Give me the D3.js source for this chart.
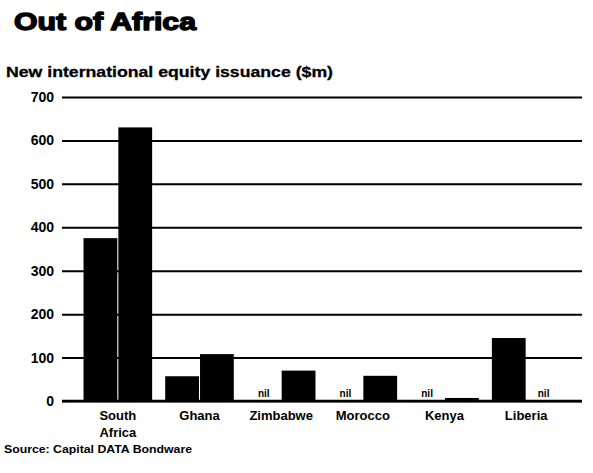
<!DOCTYPE html>
<html>
<head>
<meta charset="utf-8">
<script src="https://cdn.jsdelivr.net/npm/d3@7"></script>
<style>
  html, body { margin: 0; padding: 0; background: #fff; }
  svg { display: block; font-family: "Liberation Sans", Arial, sans-serif; }
</style>
</head>
<body>
<svg id="chart" width="593" height="473"></svg>
<script>
// New international equity issuance ($m), two periods per country; null = nil
const countries = ["South Africa", "Ghana", "Zimbabwe", "Morocco", "Kenya", "Liberia"];
const periods = ["first", "second"];
const firstValues = [375, 57, null, null, null, 145];
const secondValues = [630, 108, 70, 58, 7, null];
const yTicks = [0, 100, 200, 300, 400, 500, 600, 700];

const svg = d3.select("#chart");
const ink = "#000";

const y = d3.scaleLinear().domain([0, 700]).range([401, 97]);
const x = d3.scaleBand().domain(countries).range([77, 567])
  .paddingInner(0.16).paddingOuter(0.08);
const xs = d3.scaleBand().domain(periods).range([0, x.bandwidth()]).paddingInner(0.03);

// Title (heavy face, thickened with an outline) and subtitle
svg.append("text").attr("x", 14).attr("y", 30)
  .attr("font-size", 24).attr("font-weight", 700).attr("fill", ink)
  .attr("stroke", ink).attr("stroke-width", 1.4).attr("stroke-linejoin", "round")
  .attr("textLength", 182).attr("lengthAdjust", "spacingAndGlyphs")
  .text("Out of Africa");
svg.append("text").attr("x", 6).attr("y", 77)
  .attr("font-size", 15).attr("font-weight", 700).attr("fill", ink)
  .attr("stroke", ink).attr("stroke-width", 0.3)
  .attr("textLength", 327).attr("lengthAdjust", "spacingAndGlyphs")
  .text("New international equity issuance ($m)");

// Gridlines and value axis
const yAxis = d3.axisLeft(y).tickValues(yTicks).tickSize(-520).tickPadding(8);
const gy = svg.append("g").attr("transform", "translate(62,0)").call(yAxis);
gy.select(".domain").remove();
gy.selectAll(".tick line").attr("stroke", ink).attr("stroke-width", 2);
gy.selectAll(".tick text").attr("fill", ink).attr("font-size", 14)
  .attr("font-weight", 700).attr("font-family", "'Liberation Sans', Arial, sans-serif");

// Bars
const rows = countries.map((c, i) => ({ country: c, vals: [
  { period: "first", v: firstValues[i] },
  { period: "second", v: secondValues[i] }
]}));

const groups = svg.append("g").selectAll("g").data(rows).join("g")
  .attr("transform", d => `translate(${x(d.country)},0)`);

groups.selectAll("rect").data(d => d.vals.filter(e => e.v !== null)).join("rect")
  .attr("x", d => xs(d.period)).attr("width", xs.bandwidth())
  .attr("y", d => y(d.v)).attr("height", d => y(0) - y(d.v))
  .attr("fill", ink);

groups.selectAll("text.nil").data(d => d.vals.filter(e => e.v === null)).join("text")
  .attr("class", "nil")
  .attr("x", d => xs(d.period) + xs.bandwidth() / 2).attr("y", y(0) - 4)
  .attr("text-anchor", "middle").attr("font-size", 10).attr("font-weight", 700)
  .attr("fill", ink).text("nil");

// Baseline
svg.append("line").attr("x1", 62).attr("x2", 582).attr("y1", y(0)).attr("y2", y(0))
  .attr("stroke", ink).attr("stroke-width", 2.5);

// Category labels
const xAxis = d3.axisBottom(x).tickSize(0).tickPadding(0);
const gx = svg.append("g").attr("transform", `translate(0,${y(0)})`).call(xAxis);
gx.select(".domain").remove();
gx.selectAll(".tick text").attr("fill", ink).attr("font-size", 13).attr("font-weight", 700)
  .attr("font-family", "'Liberation Sans', Arial, sans-serif")
  .attr("dy", 0).attr("y", 19)
  .each(function (d) {
    const words = d.split(" ");
    const t = d3.select(this).text(null);
    words.forEach((w, i) => t.append("tspan").attr("x", 0).attr("dy", i ? 17 : 0).text(w));
  });

// Source
svg.append("text").attr("x", 4).attr("y", 453)
  .attr("font-size", 11).attr("font-weight", 700).attr("fill", ink)
  .attr("textLength", 188).attr("lengthAdjust", "spacingAndGlyphs")
  .text("Source: Capital DATA Bondware");
</script>
</body>
</html>
